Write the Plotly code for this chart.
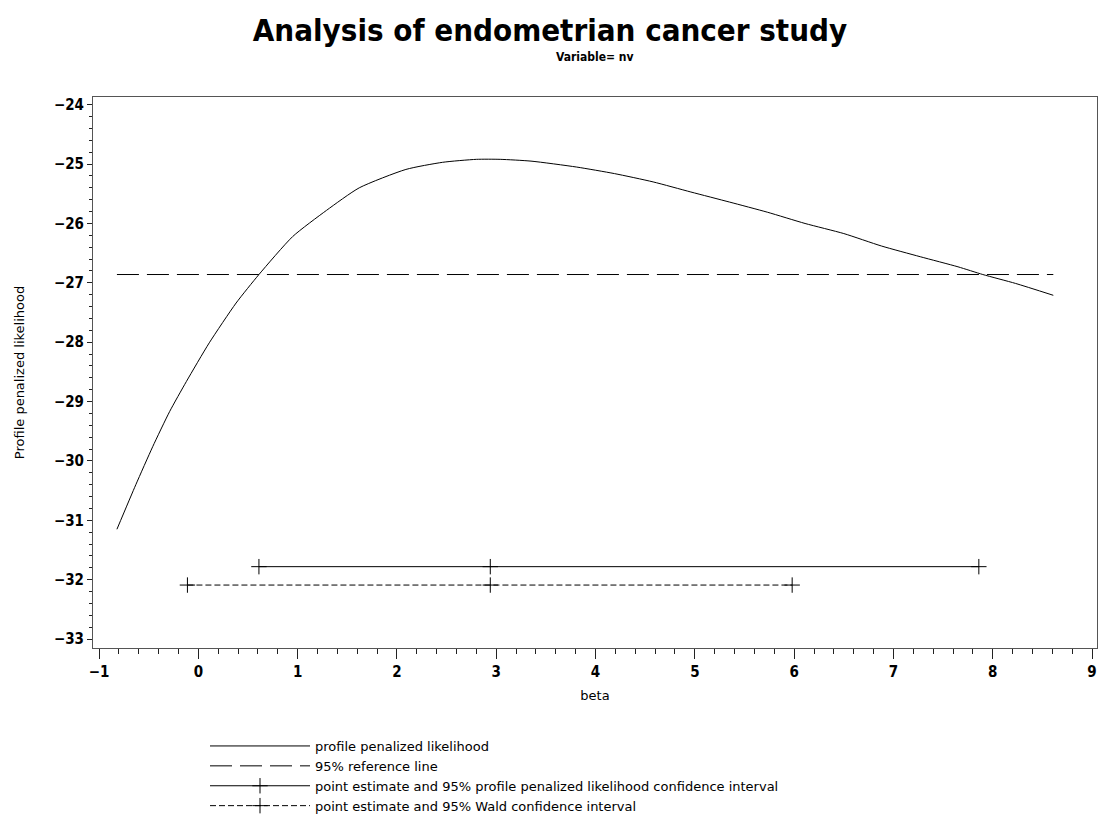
import plotly.graph_objects as go

# Profile penalized likelihood curve
beta = [-0.82, -0.63, -0.46, -0.29, -0.12, 0.11, 0.38, 0.61, 0.95, 1.29, 1.62, 2.09,
        2.46, 2.80, 3.04, 3.35, 3.81, 4.19, 4.58, 4.96, 5.35, 5.73, 6.11, 6.50,
        6.88, 7.27, 7.65, 7.90, 8.23, 8.61]
profile_pl = [-31.15, -30.40, -29.76, -29.17, -28.66, -28.01, -27.34, -26.86, -26.22,
              -25.78, -25.40, -25.09, -24.97, -24.92, -24.92, -24.95, -25.05, -25.16,
              -25.30, -25.47, -25.64, -25.81, -26.00, -26.17, -26.38, -26.56, -26.73,
              -26.86, -27.01, -27.21]

# 95% reference line
ref_x = [-0.82, 8.61]
ref_level = -26.86

# Confidence intervals (lower, estimate, upper)
pl_ci = [0.61, 2.94, 7.86]
pl_ci_level = -31.78
wald_ci = [-0.11, 2.94, 5.98]
wald_ci_level = -32.09

x_ticks = list(range(-1, 10))
y_ticks = list(range(-33, -23))

NARROW = "DejaVu Sans Condensed, Liberation Sans Narrow, Liberation Sans, Arial, sans-serif"
WIDE = "DejaVu Sans, Liberation Sans, Arial, sans-serif"

W, H = 1100, 833
L, R, T, B = 93, 3, 97, 185
plot_h = H - T - B
plot_w = W - L - R

fig = go.Figure()
fig.add_trace(go.Scatter(x=beta, y=profile_pl, mode="lines",
                         line=dict(color="black", width=1, shape="spline", smoothing=0.6),
                         name="profile penalized likelihood"))
fig.add_trace(go.Scatter(x=ref_x, y=[ref_level] * len(ref_x), mode="lines",
                         line=dict(color="black", width=1, dash="22px,8px"),
                         name="95% reference line"))
fig.add_trace(go.Scatter(x=pl_ci, y=[pl_ci_level] * len(pl_ci), mode="lines+markers",
                         line=dict(color="black", width=1),
                         marker=dict(symbol="cross-thin", size=11,
                                     line=dict(color="black", width=1)),
                         name="point estimate and 95% profile penalized likelihood confidence interval"))
fig.add_trace(go.Scatter(x=wald_ci, y=[wald_ci_level] * len(wald_ci), mode="lines+markers",
                         line=dict(color="black", width=1, dash="6px,3px"),
                         marker=dict(symbol="cross-thin", size=11,
                                     line=dict(color="black", width=1)),
                         name="point estimate and 95% Wald confidence interval"))

fig.update_layout(
    width=W, height=H,
    paper_bgcolor="white", plot_bgcolor="white",
    margin=dict(l=L, r=R, t=T, b=B, autoexpand=False),
    title=dict(
        text="<b>Analysis of endometrian cancer study</b>",
        x=0.5, xanchor="center", xref="container",
        y=1 - 30 / H, yanchor="middle", yref="container",
        font=dict(family=NARROW, size=31, color="black")),
    annotations=[dict(text="<b>Variable= nv</b>", xref="paper", yref="paper",
                      x=0.5, xanchor="center",
                      y=1 + (T - 57) / plot_h, yanchor="middle",
                      showarrow=False,
                      font=dict(family=NARROW, size=12, color="black"))],
    showlegend=True,
    legend=dict(x=(205 - L) / plot_w, xref="paper", xanchor="left",
                y=-(731 - (H - B)) / plot_h, yref="paper", yanchor="top",
                font=dict(family=WIDE, size=13, color="black"),
                itemwidth=100, tracegroupgap=0,
                bgcolor="rgba(0,0,0,0)"),
    xaxis=dict(range=[-1.061, 9.05], tickvals=x_ticks, automargin=False,
               ticklabeloverflow="allow",
               showgrid=False, zeroline=False,
               showline=True, mirror=True, linecolor="#555", linewidth=1,
               ticks="outside", ticklen=10, tickcolor="#222", tickwidth=1,
               minor=dict(dtick=0.2, ticks="outside", ticklen=5, tickcolor="#222", showgrid=False),
               tickfont=dict(family=NARROW, size=15, color="black", weight="bold"),
               title=dict(text="beta", font=dict(family=WIDE, size=13, color="black"),
                          standoff=10)),
    yaxis=dict(range=[-33.15, -23.87], tickvals=y_ticks, automargin=False,
               showgrid=False, zeroline=False,
               showline=True, mirror=True, linecolor="#555", linewidth=1,
               ticks="outside", ticklen=5, tickcolor="#222", tickwidth=1,
               minor=dict(dtick=0.2, ticks="outside", ticklen=3, tickcolor="#222", showgrid=False),
               tickfont=dict(family=NARROW, size=15, color="black", weight="bold"),
               title=dict(text="Profile penalized likelihood",
                          font=dict(family=WIDE, size=13, color="black"), standoff=26)),
)

fig.write_html("out.html", config={"displayModeBar": False},
               post_script="document.body.style.margin='0';document.body.style.overflow='hidden';")
